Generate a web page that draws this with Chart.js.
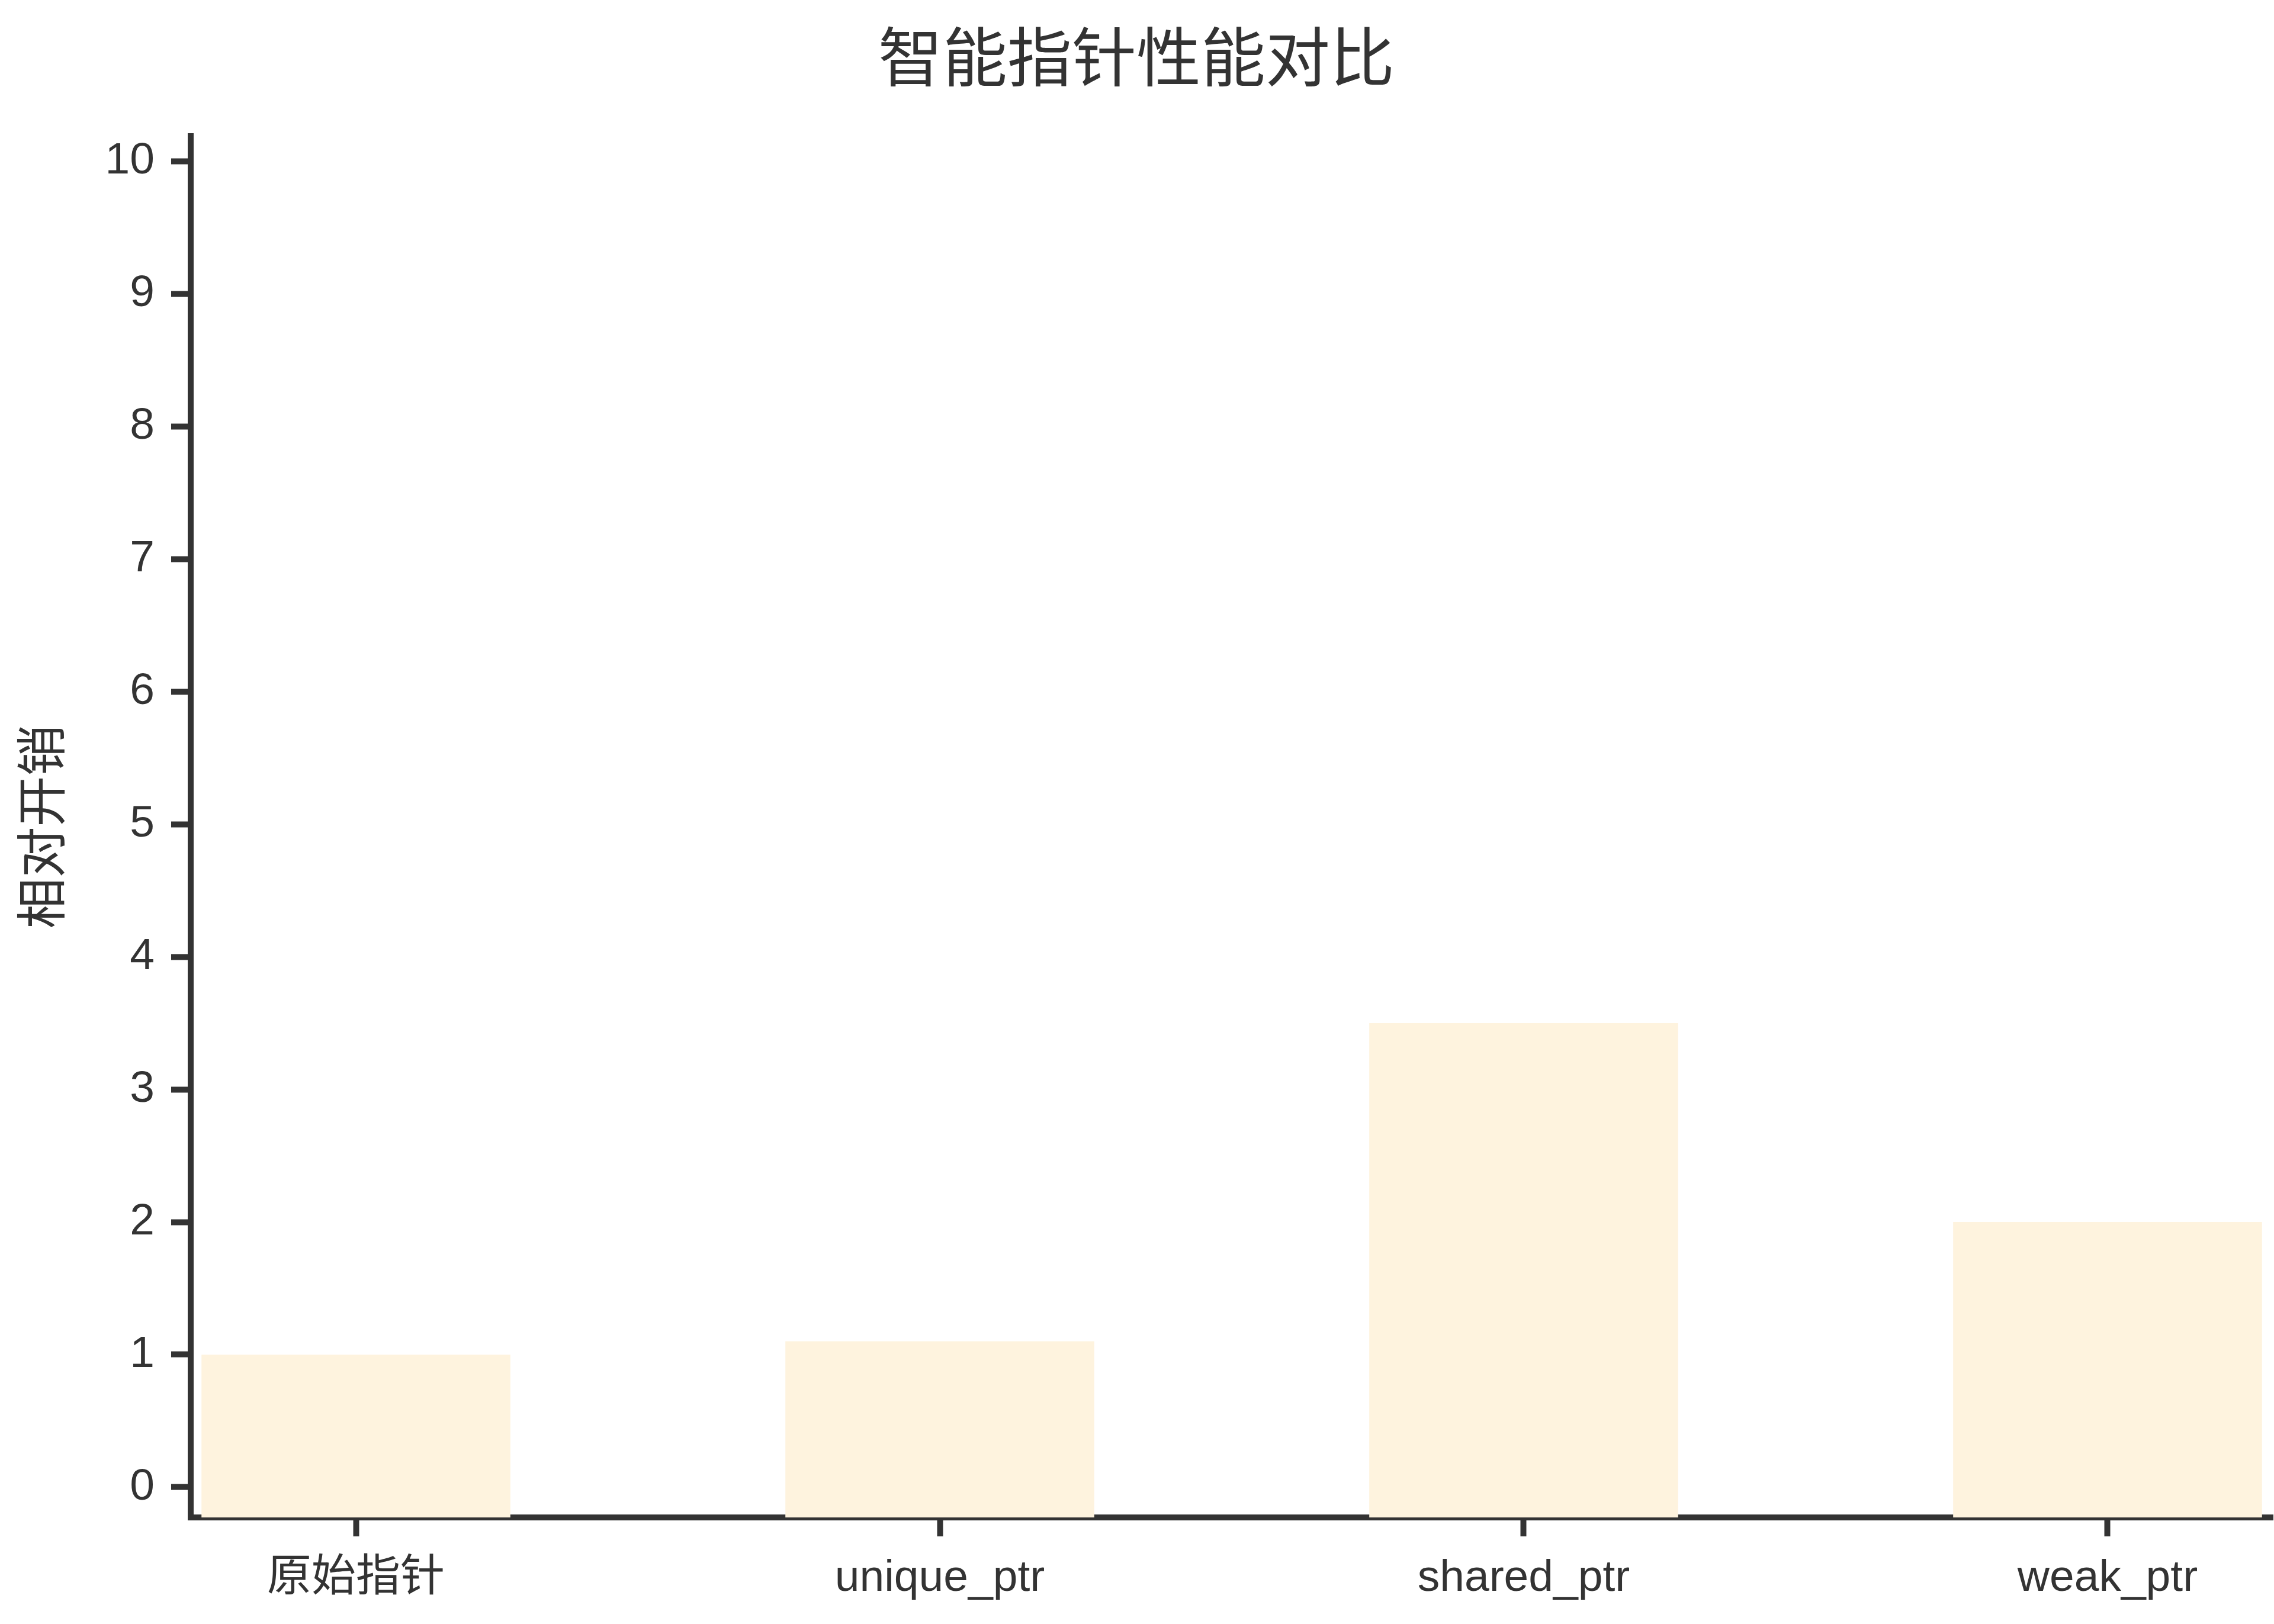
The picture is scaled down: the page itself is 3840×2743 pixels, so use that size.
<!DOCTYPE html>
<html>
<head>
<meta charset="utf-8">
<script src="https://cdn.jsdelivr.net/npm/chart.js@4.4.0/dist/chart.umd.min.js"></script>
<style>
html,body{margin:0;padding:0;background:#ffffff;}
canvas{display:block;}
</style>
</head>
<body>
<canvas id="c" width="3840" height="2743" style="width:3840px;height:2743px"></canvas>
<script>
const categories = ['原始指针', 'unique_ptr', 'shared_ptr', 'weak_ptr'];
const overhead = [1.0, 1.1, 3.5, 2.0];
const yTicks = [0, 1, 2, 3, 4, 5, 6, 7, 8, 9, 10];
const titleText = '智能指针性能对比';
const yLabel = '相对开销';

const Y_MIN = -0.228, Y_MAX = 10.19;
const X_MIN = -0.283, X_MAX = 3.283;
const INK = '#333333';
const FONT = "'Liberation Sans', 'Noto Sans CJK SC', sans-serif";

new Chart(document.getElementById('c'), {
  type: 'bar',
  data: {
    datasets: [{
      data: overhead.map((v, i) => ({ x: i, y: v })),
      backgroundColor: '#FEF3DE',
      borderWidth: 0,
      base: Y_MIN,
      barPercentage: 0.529,
      categoryPercentage: 1.0
    }]
  },
  options: {
    responsive: false,
    devicePixelRatio: 1,
    animation: false,
    layout: { padding: { left: 0, right: 2, top: 0, bottom: 0 } },
    plugins: {
      legend: { display: false },
      tooltip: { enabled: false },
      title: {
        display: true,
        text: titleText,
        color: INK,
        font: { family: FONT, size: 109, weight: 'normal', lineHeight: 1.2 },
        padding: { top: 42, bottom: 57 }
      }
    },
    scales: {
      x: {
        type: 'linear',
        offset: false,
        min: X_MIN,
        max: X_MAX,
        afterBuildTicks: (s) => { s.ticks = categories.map((c, i) => ({ value: i })); },
        afterFit: (s) => { s.height = 180; },
        ticks: {
          callback: (v) => categories[v],
          color: INK,
          font: { family: FONT, size: 75 },
          padding: 26,
          autoSkip: false,
          maxRotation: 0
        },
        grid: {
          display: true,
          offset: false,
          drawOnChartArea: false,
          drawTicks: true,
          tickLength: 32,
          tickWidth: 10,
          tickColor: INK
        },
        border: { display: true, color: INK, width: 10 }
      },
      y: {
        min: Y_MIN,
        max: Y_MAX,
        afterBuildTicks: (s) => { s.ticks = yTicks.map(v => ({ value: v })); },
        afterFit: (s) => { s.width = 322; },
        ticks: {
          callback: (v) => String(v),
          color: INK,
          font: { family: FONT, size: 75 },
          padding: 28
        },
        grid: {
          display: true,
          drawOnChartArea: false,
          drawTicks: true,
          tickLength: 33,
          tickWidth: 10,
          tickColor: INK
        },
        border: { display: true, color: INK, width: 10 },
        title: {
          display: true,
          text: yLabel,
          color: INK,
          font: { family: FONT, size: 86, lineHeight: 1.2 },
          padding: { top: 27, bottom: 0 }
        }
      }
    }
  }
});
</script>
</body>
</html>
